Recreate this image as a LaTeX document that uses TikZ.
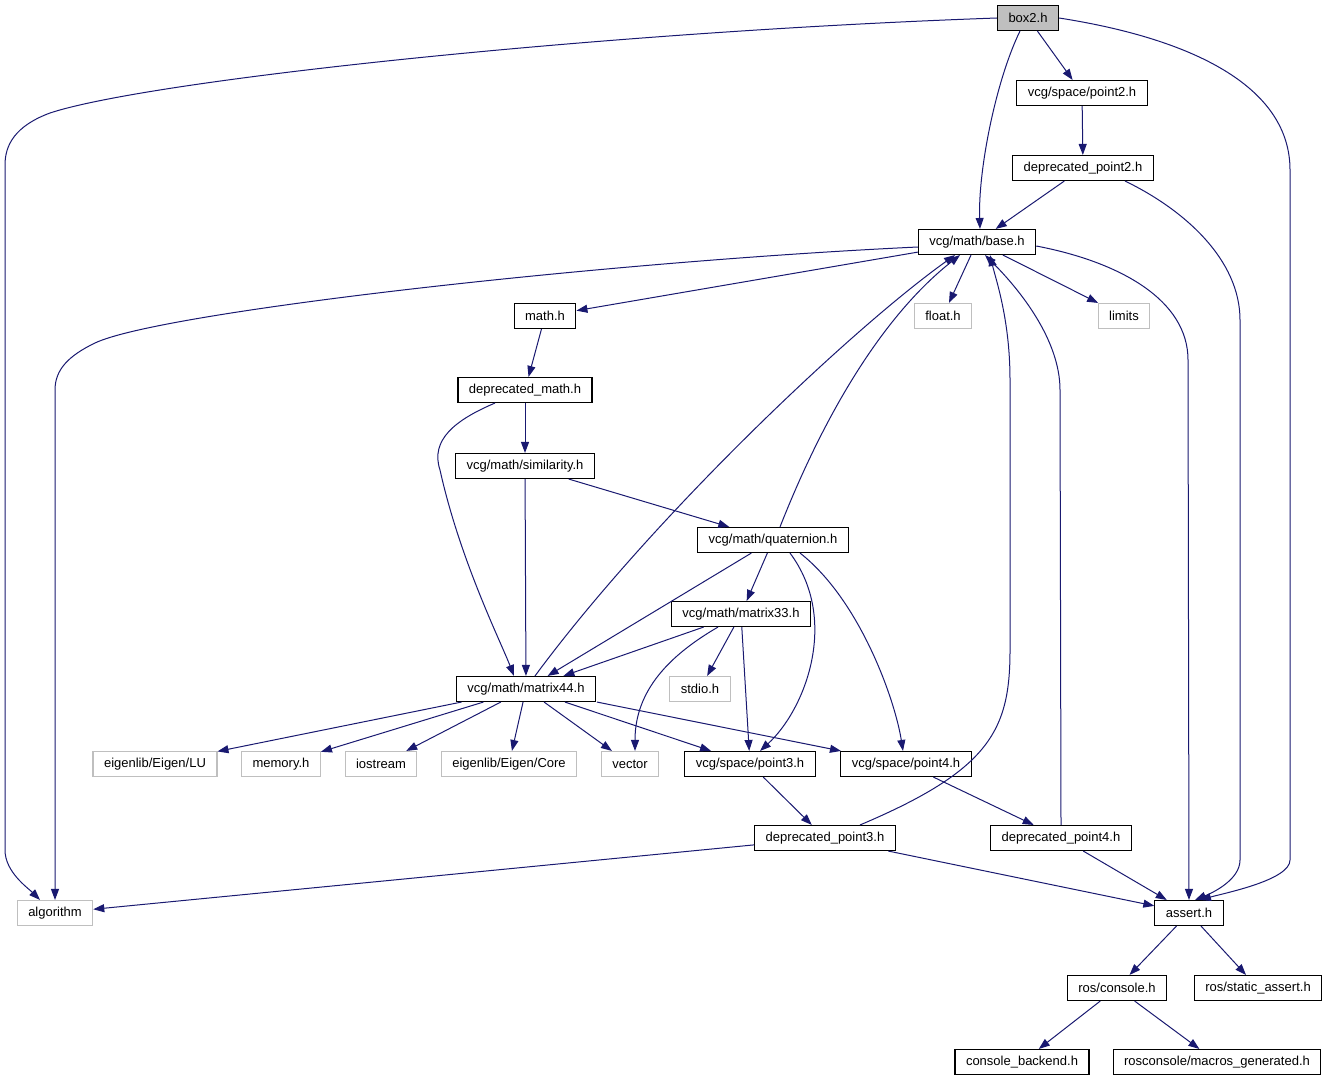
\documentclass[tikz,border=0pt]{standalone}
\usepackage{fontspec}
\setmainfont{Liberation Sans}
\usetikzlibrary{arrows.meta}
\definecolor{edgeblue}{HTML}{191970}
\definecolor{extgray}{HTML}{BFBFBF}

\begin{document}
\begin{tikzpicture}[x=1pt,y=-1pt,
    hdr/.style={draw=black,line width=1.1pt,fill=white,inner xsep=11pt,inner ysep=0pt,
      minimum height=25pt,font=\fontsize{13}{15}\selectfont},
    top/.style={hdr,fill=extgray},
    ext/.style={hdr,draw=extgray},
    dep/.style={draw=edgeblue,line width=1pt,-{Triangle[length=11pt,width=8pt]}}]
  \useasboundingbox (0,0) rectangle (1329,1083);
  % files
  \node[top] (box2) at (1028,18) {box2.h};
  \node[hdr] (p2) at (1082,93) {vcg/space/point2.h};
  \node[hdr] (dp2) at (1083,168) {deprecated\_point2.h};
  \node[hdr] (base) at (977,242) {vcg/math/base.h};
  \node[hdr] (math) at (545,316) {math.h};
  \node[ext] (float) at (943,316) {float.h};
  \node[ext] (limits) at (1124,316) {limits};
  \node[hdr] (dmath) at (525,390) {deprecated\_math.h};
  \node[hdr] (sim) at (525,466) {vcg/math/similarity.h};
  \node[hdr] (quat) at (773,540) {vcg/math/quaternion.h};
  \node[hdr] (m33) at (741,614) {vcg/math/matrix33.h};
  \node[ext] (stdio) at (700,689) {stdio.h};
  \node[hdr] (m44) at (526,689) {vcg/math/matrix44.h};
  \node[ext] (lu) at (155,764) {eigenlib/Eigen/LU};
  \node[ext] (memory) at (281,764) {memory.h};
  \node[ext] (iostream) at (381,764) {iostream};
  \node[ext] (core) at (509,764) {eigenlib/Eigen/Core};
  \node[ext] (vector) at (630,764) {vector};
  \node[hdr] (p3) at (750,764) {vcg/space/point3.h};
  \node[hdr] (p4) at (906,764) {vcg/space/point4.h};
  \node[hdr] (dp3) at (825,838) {deprecated\_point3.h};
  \node[hdr] (dp4) at (1061,838) {deprecated\_point4.h};
  \node[ext] (algo) at (55,913) {algorithm};
  \node[hdr] (assert) at (1189,913) {assert.h};
  \node[hdr] (console) at (1117,988) {ros/console.h};
  \node[hdr] (sassert) at (1258,988) {ros/static\_assert.h};
  \node[hdr] (backend) at (1022,1062) {console\_backend.h};
  \node[hdr] (macros) at (1217,1062) {rosconsole/macros\_generated.h};
  % includes of box2.h
  \draw[dep] (box2.west) .. controls (600,32) and (150,80) .. (50,113)
    .. controls (15,126) and (5,145) .. (5,165) -- (5,850)
    .. controls (5,872) and (28,888) .. ([xshift=-15pt]algo.north);
  \draw[dep] ([xshift=-8pt]box2.south) .. controls (996,80) and (978,170) .. ([xshift=3pt]base.north);
  \draw[dep] (box2) -- (p2);
  \draw[dep] (box2.east) .. controls (1200,40) and (1290,90) .. (1290,170) -- (1290,860)
    .. controls (1290,880) and (1225,893) .. ([xshift=11pt]assert.north);
  \draw[dep] (p2) -- (dp2);
  \draw[dep] (dp2) -- (base);
  \draw[dep] ([xshift=42pt]dp2.south) .. controls (1185,210) and (1240,260) .. (1240,320) -- (1240,860)
    .. controls (1240,880) and (1212,893) .. ([xshift=6pt]assert.north);
  % includes of base.h
  \draw[dep] ([yshift=-5pt]base.west) .. controls (600,262) and (160,312) .. (95,343)
    .. controls (68,356) and (55,370) .. (55,390) -- (algo.north);
  \draw[dep] (base) -- (math);
  \draw[dep] (base) -- (float);
  \draw[dep] (base) -- (limits);
  \draw[dep] ([yshift=-4pt]base.east) .. controls (1120,262) and (1188,300) .. (1188,360) -- (assert.north);
  % math headers
  \draw[dep] (math) -- (dmath);
  \draw[dep] (dmath) -- (sim);
  \draw[dep] ([xshift=-30pt]dmath.south) .. controls (455,420) and (430,440) .. (440,470)
    .. controls (460,560) and (500,640) .. ([xshift=-12pt]m44.north);
  \draw[dep] (sim) -- (quat);
  \draw[dep] (sim) -- (m44);
  \draw[dep] ([xshift=7pt]quat.north) .. controls (830,400) and (890,310) .. ([xshift=-17pt]base.south);
  \draw[dep] (quat) -- (m33);
  \draw[dep] (quat) -- (m44);
  \draw[dep] ([xshift=17pt]quat.south) .. controls (840,620) and (805,710) .. ([xshift=10pt]p3.north);
  \draw[dep] ([xshift=27pt]quat.south) .. controls (860,600) and (895,700) .. ([xshift=-3pt]p4.north);
  \draw[dep] (m33) -- (stdio);
  \draw[dep] (m33) -- (m44);
  \draw[dep] ([xshift=-23pt]m33.south) .. controls (670,655) and (635,690) .. ([xshift=5pt]vector.north);
  \draw[dep] (m33) -- (p3);
  \draw[dep] ([xshift=9pt]m44.north) .. controls (650,520) and (850,330) .. ([xshift=-22pt]base.south);
  \draw[dep] (m44) -- (lu);
  \draw[dep] (m44) -- (memory);
  \draw[dep] (m44) -- (iostream);
  \draw[dep] (m44) -- (core);
  \draw[dep] (m44) -- (vector);
  \draw[dep] (m44) -- (p3);
  \draw[dep] ([xshift=71pt]m44.south) -- (p4);
  % point headers
  \draw[dep] (p3) -- (dp3);
  \draw[dep] (p4) -- (dp4);
  \draw[dep] ([xshift=35pt]dp3.north) .. controls (990,770) and (1010,730) .. (1010,650) -- (1010,380)
    .. controls (1010,320) and (996,280) .. ([xshift=13pt]base.south);
  \draw[dep] (dp3) -- (algo);
  \draw[dep] (dp3) -- (assert);
  \draw[dep] (dp4.north) -- (1060,390) .. controls (1060,340) and (1020,290) .. ([xshift=8pt]base.south);
  \draw[dep] (dp4) -- (assert);
  % ros headers
  \draw[dep] (assert) -- (console);
  \draw[dep] (assert) -- (sassert);
  \draw[dep] (console) -- (backend);
  \draw[dep] (console) -- (macros);
\end{tikzpicture}
\end{document}
